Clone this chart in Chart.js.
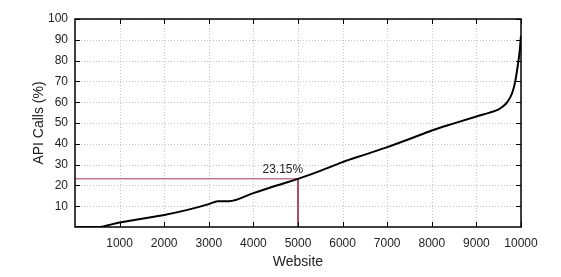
<!DOCTYPE html>
<html>
<head>
<meta charset="utf-8">
<script src="https://cdn.jsdelivr.net/npm/chart.js@4"></script>
<style>
  html, body { margin: 0; padding: 0; background: #fff; }
  #wrap { width: 561px; height: 277px; }
</style>
</head>
<body>
<div id="wrap"><canvas id="c"></canvas></div>
<script>
// Websites (sorted) vs cumulative share of API calls
const websites = [0, 500, 1000, 1500, 2000, 2500, 3000, 3200, 3450, 4000, 4500, 5000, 5500, 6000, 6500, 7000, 7500, 8000, 8500, 9000, 9300, 9500, 9600, 9700, 9800, 9870, 9930, 9970, 10000];
const apiCalls = [0, 0, 2.2, 4.0, 5.8, 8.1, 11.0, 12.4, 12.4, 16.3, 19.8, 23.15, 27.0, 31.2, 34.8, 38.4, 42.3, 46.4, 49.8, 53.1, 55.0, 56.6, 58.0, 60.3, 64.3, 69.9, 77.9, 84.5, 92];

// marker for the half-way point
const markX = 5000;
const markY = 23.15;
const markLabel = '23.15%';

const xTicks = [1000, 2000, 3000, 4000, 5000, 6000, 7000, 8000, 9000, 10000];
const yTicks = [10, 20, 30, 40, 50, 60, 70, 80, 90, 100];

const FONT = 'Liberation Sans, Arial, sans-serif';

// dotted grid under the data
const gridPlugin = {
  id: 'dotgrid',
  beforeDatasetsDraw(chart) {
    const { ctx, chartArea: a, scales } = chart;
    ctx.save();
    ctx.strokeStyle = '#c4c4c4';
    ctx.lineWidth = 1;
    ctx.setLineDash([1, 2]);
    ctx.beginPath();
    xTicks.forEach(v => {
      const px = Math.round(scales.x.getPixelForValue(v)) + 0.5;
      ctx.moveTo(px, a.top); ctx.lineTo(px, a.bottom);
    });
    yTicks.forEach(v => {
      const py = Math.round(scales.y.getPixelForValue(v)) + 0.5;
      ctx.moveTo(a.left, py); ctx.lineTo(a.right, py);
    });
    ctx.stroke();
    ctx.restore();
  }
};

// frame + gnuplot-style inner ticks + label
const framePlugin = {
  id: 'frame',
  afterDraw(chart) {
    const { ctx, chartArea: a, scales } = chart;
    ctx.save();
    ctx.strokeStyle = '#000';
    ctx.lineWidth = 1;
    ctx.beginPath();
    xTicks.forEach(v => {
      const px = Math.round(scales.x.getPixelForValue(v)) + 0.5;
      ctx.moveTo(px, a.bottom); ctx.lineTo(px, a.bottom - 5);
      ctx.moveTo(px, a.top); ctx.lineTo(px, a.top + 5);
    });
    yTicks.forEach(v => {
      const py = Math.round(scales.y.getPixelForValue(v)) + 0.5;
      ctx.moveTo(a.left, py); ctx.lineTo(a.left + 5, py);
      ctx.moveTo(a.right, py); ctx.lineTo(a.right - 5, py);
    });
    ctx.stroke();
    ctx.lineWidth = 1.5;
    ctx.strokeRect(a.left, a.top, a.right - a.left, a.bottom - a.top);

    ctx.fillStyle = '#222';
    ctx.font = '12px ' + FONT;
    ctx.textAlign = 'center';
    ctx.textBaseline = 'alphabetic';
    ctx.fillText(markLabel, scales.x.getPixelForValue(4660), scales.y.getPixelForValue(markY) - 6);
    ctx.restore();
  }
};

new Chart(document.getElementById('c'), {
  type: 'line',
  data: {
    datasets: [
      {
        data: websites.map((w, i) => ({ x: w, y: apiCalls[i] })),
        borderColor: '#000',
        borderWidth: 2,
        pointRadius: 0,
        cubicInterpolationMode: 'monotone',
        order: 1
      },
      {
        data: [{ x: 0, y: markY }, { x: markX, y: markY }, { x: markX, y: 0 }],
        borderColor: '#a8344e',
        borderWidth: 1,
        pointRadius: 0,
        tension: 0,
        order: 2
      }
    ]
  },
  options: {
    responsive: true,
    maintainAspectRatio: false,
    animation: false,
    layout: { padding: { top: 19, right: 40, left: 0, bottom: 0 } },
    plugins: { legend: { display: false }, tooltip: { enabled: false } },
    scales: {
      x: {
        type: 'linear',
        min: 0, max: 10000,
        afterFit(s) { s.height = 50; },
        afterBuildTicks(s) { s.ticks = xTicks.map(v => ({ value: v })); },
        ticks: { color: '#222', font: { family: FONT, size: 12 }, padding: 9, maxRotation: 0, callback: v => String(v) },
        grid: { display: false, drawTicks: false },
        border: { display: false },
        title: { display: true, text: 'Website', color: '#222', font: { family: FONT, size: 14 }, padding: { top: 0, bottom: 6 } }
      },
      y: {
        type: 'linear',
        min: 0, max: 100,
        afterFit(s) { s.width = 75; },
        afterBuildTicks(s) { s.ticks = yTicks.map(v => ({ value: v })); },
        ticks: { color: '#222', font: { family: FONT, size: 12 }, padding: 7, callback: v => String(v) },
        grid: { display: false, drawTicks: false },
        border: { display: false },
        title: { display: true, text: 'API Calls (%)', color: '#222', font: { family: FONT, size: 14 }, padding: { top: 31, bottom: 0 } }
      }
    }
  },
  plugins: [gridPlugin, framePlugin]
});
</script>
</body>
</html>
